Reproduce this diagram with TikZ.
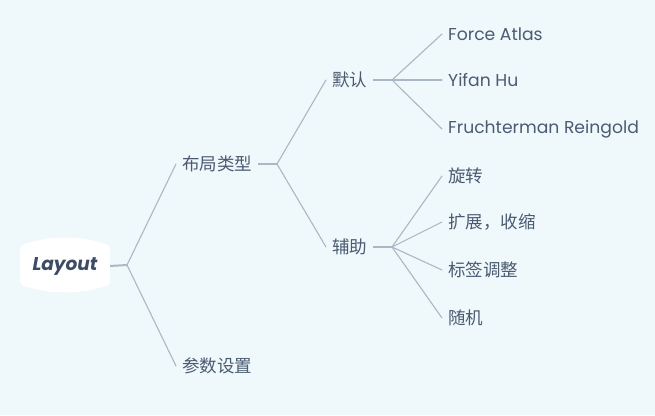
\documentclass[tikz,border=0pt]{standalone}
\usepackage{fontspec}
\setmainfont{Poppins}
\newfontfamily\cjk{Noto Sans CJK SC}
\usetikzlibrary{positioning}
\definecolor{paper colour}{HTML}{EFF8FB}
\definecolor{link colour}{HTML}{AAB8C6}
\definecolor{label colour}{HTML}{4B5B72}
\definecolor{root colour}{HTML}{3D4B66}
\tikzset{
    % Connectors: thin branches, thicker stubs out of a node
    link/.style={draw=link colour, line width=1.1pt, line cap=round},
    stub/.style={link, line width=2pt, line cap=butt},
%
    % Text nodes, anchored where the branch ends
    topic/.style={
        anchor=west, inner xsep=6pt, inner ysep=2pt,
        text=label colour, font=\cjk\fontsize{17.5}{20}\selectfont},
    leaf/.style={topic, font=\fontsize{17.2}{20}\selectfont},
    root/.style={
        text=root colour, minimum width=90pt, minimum height=54pt,
        font=\fontsize{18.5}{20}\selectfont\bfseries\itshape},
}
\begin{document}
\begin{tikzpicture}[x=1pt, y=-1pt]
    \fill [paper colour] (0,0) rectangle (655,415);

    % root bubble
    \fill [white] (20,281) -- (20,249)
        .. controls (20,244) and (26,243) .. (32,242)
        .. controls (50,236) and (80,236) .. (98,242)
        .. controls (104,243) and (110,244) .. (110,249) -- (110,281)
        .. controls (110,286) and (104,287) .. (98,288)
        .. controls (80,294) and (50,294) .. (32,288)
        .. controls (26,287) and (20,286) .. (20,281) -- cycle;
    \node [root] (layout) at (65,266) {Layout};

    \node [topic] (type) at (176,164) {布局类型};
    \node [topic] (params) at (176,366) {参数设置};
    \node [topic] (default) at (326,80) {默认};
    \node [topic] (aux) at (326,247) {辅助};

    \node [leaf] (force) at (442,34) {Force Atlas};
    \node [leaf] (yifan) at (442,80) {Yifan Hu};
    \node [leaf] (fr) at (442,129) {Fruchterman Reingold};

    \node [topic] (rotate) at (442,176) {旋转};
    \node [topic] (scale) at (442,222) {扩展，收缩};
    \node [topic] (labels) at (442,270) {标签调整};
    \node [topic] (random) at (442,318) {随机};

    \coordinate (layout fork) at (127,265);
    \coordinate (type fork) at (277,164);
    \coordinate (default fork) at (392,80);
    \coordinate (aux fork) at (392,247);

    \path [stub] (layout.east) -- (layout fork);
    \path [link] (layout fork) -- (type.west);
    \path [link] (layout fork) -- (params.west);

    \path [stub] (type.east) -- (type fork);
    \path [link] (type fork) -- (default.west);
    \path [link] (type fork) -- (aux.west);

    \path [stub] (default.east) -- (default fork);
    \path [link] (default fork) -- (force.west);
    \path [link] (default fork) -- (yifan.west);
    \path [link] (default fork) -- (fr.west);

    \path [stub] (aux.east) -- (aux fork);
    \path [link] (aux fork) -- (rotate.west);
    \path [link] (aux fork) -- (scale.west);
    \path [link] (aux fork) -- (labels.west);
    \path [link] (aux fork) -- (random.west);
\end{tikzpicture}
\end{document}
